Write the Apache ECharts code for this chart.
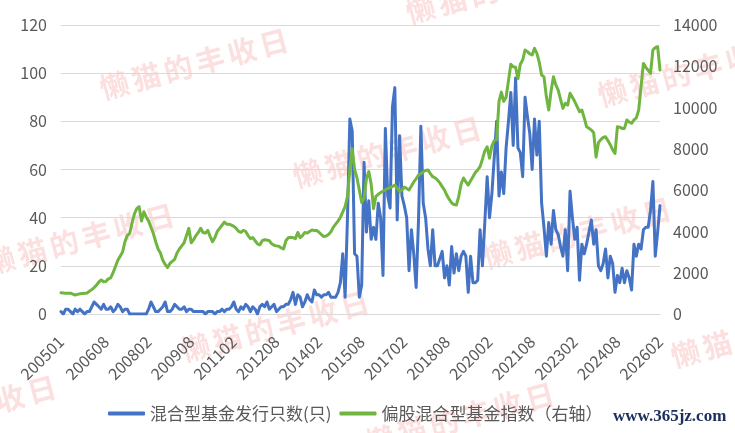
<!DOCTYPE html>
<html><head><meta charset="utf-8">
<script src="https://cdn.jsdelivr.net/npm/echarts@6/dist/echarts.min.js"></script>
<style>html,body{margin:0;padding:0;background:#fff}#c{width:735px;height:433px}</style>
</head><body><div id="c"></div>
<script>
// Monthly categories 200501 .. 202602
const months = [];
for (let y = 2005; y <= 2026; y++) {
  for (let m = 1; m <= 12; m++) {
    if (y === 2026 && m > 2) break;
    months.push(String(y) + String(m).padStart(2, '0'));
  }
}
const tickLabels = ['200501','200608','200802','200908','201102','201208','201402','201508','201702','201808','202002','202108','202302','202408','202602'];

const seriesNames = ['混合型基金发行只数(只)', '偏股混合型基金指数（右轴）'];

// 混合型基金发行只数 (left axis)
const issueCount = [
  1,0,2,2,1,0,2,1,2,1,0,1,
  1,3,5,4,3,2,4,2,2,3,1,2,
  4,3,1,2,2,0,0,0,0,0,0,0,
  0,2,5,3,1,1,2,3,5,1,1,2,
  4,3,2,2,3,1,2,2,1,1,1,1,
  1,0,1,1,1,0,1,1,2,1,2,2,
  3,5,2,1,3,2,4,3,1,3,2,0,
  3,4,3,5,2,3,4,1,2,3,3,4,
  4,6,9,4,8,7,3,5,8,6,5,10,
  8,8,7,8,8,9,7,7,7,9,13,25,
  7,40,81,76,25,24,7,12,63,34,47,31,
  36,31,46,40,16,77,49,44,86,94,39,74,
  49,45,40,18,35,25,11,39,78,46,40,27,
  20,35,20,20,23,26,15,20,12,28,17,25,
  18,24,26,24,9,24,13,13,14,35,20,38,
  57,40,50,65,80,49,59,50,69,80,92,70,
  98,69,67,57,90,82,75,60,81,66,80,46,
  36,24,38,29,43,35,33,28,24,35,18,51,
  40,31,36,14,29,25,29,34,39,29,35,20,
  18,21,27,15,24,21,9,16,13,19,13,18,
  15,10,29,24,29,27,35,36,36,43,55,24,
  34,45
];

// 偏股混合型基金指数 (right axis)
const fundIndex = [
  1030,1020,1000,1000,1010,960,920,950,980,990,1000,1020,
  1100,1180,1280,1400,1550,1650,1560,1580,1700,1750,2000,2300,
  2600,2800,3000,3500,3800,3900,4400,4850,5100,5200,4500,4950,
  4700,4500,4200,3900,3500,3150,2950,2600,2400,2250,2450,2550,
  2650,2950,3150,3300,3450,3800,4150,3450,3600,3800,3950,4150,
  3950,3920,4050,3750,3500,3700,4000,4150,4300,4450,4350,4350,
  4300,4250,4150,4000,3950,4050,4000,3800,3650,3700,3550,3400,
  3350,3550,3600,3580,3550,3400,3330,3300,3280,3200,3150,3550,
  3700,3720,3700,3650,3950,3700,3800,3950,3920,4000,4070,4050,
  4050,3950,3850,3750,3780,3850,3980,4200,4350,4500,4680,4950,
  5200,5700,7000,8000,7000,6600,6000,5400,5600,6550,6900,6300,
  5100,5700,5800,5880,5950,6020,6080,6120,6180,6250,6100,5920,
  6000,6150,6080,6010,6200,6400,6550,6730,6800,6890,6950,6980,
  6800,6650,6600,6490,6350,6170,6000,5750,5550,5380,5300,5280,
  5700,6300,6590,6400,6250,6450,6650,6850,6980,7140,7500,7900,
  8100,7550,8150,8400,8450,10300,10750,10300,10500,11300,12100,11980,
  11950,11400,12100,12300,12790,12710,12600,12550,12870,12630,12200,11580,
  11490,10530,9880,10800,11490,11100,10850,10400,9960,10210,10120,10690,
  10500,10290,10050,9800,9880,9500,9070,9000,8910,8780,7600,8300,
  8450,8550,8590,8400,8200,7950,7780,9070,9050,8990,8990,9400,
  9300,9240,9400,9500,9880,11010,12140,11950,11800,11660,12790,12900,
  12950,11820
];

const watermarkText = '懒猫的丰收日';
const siteText = 'www.365jz.com';
</script>
<script>
const wmSpots = [[194,64],[500,-12],[692,71],[387,152],[80,239],[577,233],[765,332],[-38,411],[275,326],[460,418]];
const graphics = [];
const ang = 15 * Math.PI / 180, pitch = 33;
wmSpots.forEach(([cx, cy]) => {
  const chars = Array.from(watermarkText);
  chars.forEach((ch, k) => {
    const off = (k - (chars.length - 1) / 2) * pitch;
    graphics.push({
      type: 'text', x: cx + off * Math.cos(ang), y: cy - off * Math.sin(ang),
      rotation: ang, z: 0, silent: true,
      style: { text: ch, font: 'bold 29px "Noto Sans CJK SC"', fill: 'rgba(238,95,95,0.2)', textAlign: 'center', textVerticalAlign: 'middle' }
    });
  });
});
graphics.push({
  type: 'text', x: 613, y: 417, z: 10,
  style: { text: siteText, font: 'bold 17px "Liberation Serif"', fill: '#1B2F5E', textAlign: 'left', textVerticalAlign: 'middle' }
});

const chart = echarts.init(document.getElementById('c'), null, { renderer: 'canvas' });
chart.setOption({
  animation: false,
  backgroundColor: '#fff',
  textStyle: { fontFamily: '"Noto Sans CJK SC", "Noto Sans", sans-serif' },
  grid: { left: 61, right: 75, top: 25, bottom: 119, containLabel: false },
  legend: {
    left: 103, top: 400, itemWidth: 37, itemHeight: 4, itemGap: 8, icon: 'roundRect',
    textStyle: { fontSize: 17, color: '#595959' },
    data: seriesNames
  },
  xAxis: {
    type: 'category', data: months, boundaryGap: false,
    axisLine: { lineStyle: { color: '#D9D9D9', width: 1 } },
    axisTick: { show: false },
    splitLine: { show: false },
    axisLabel: {
      interval: (i, v) => tickLabels.indexOf(v) >= 0,
      rotate: 45, fontSize: 16, color: '#595959', margin: 25
    }
  },
  yAxis: [
    { type: 'value', min: 0, max: 120, interval: 20, position: 'left',
      axisLine: { show: false }, axisTick: { show: false },
      axisLabel: { fontSize: 16, color: '#595959', margin: 14 },
      splitLine: { lineStyle: { color: '#D9D9D9', width: 1 } } },
    { type: 'value', min: 0, max: 14000, interval: 2000, position: 'right',
      axisLine: { show: false }, axisTick: { show: false },
      axisLabel: { fontSize: 16, color: '#595959', margin: 13, formatter: v => String(v) },
      splitLine: { show: false } }
  ],
  series: [
    { name: seriesNames[0], type: 'line', yAxisIndex: 0, data: issueCount, symbol: 'none', z: 3,
      lineStyle: { width: 3, color: '#4472C4', cap: 'round', join: 'round' }, itemStyle: { color: '#4472C4' } },
    { name: seriesNames[1], type: 'line', yAxisIndex: 1, data: fundIndex, symbol: 'none', z: 4,
      lineStyle: { width: 3, color: '#70B53F', cap: 'round', join: 'round' }, itemStyle: { color: '#70B53F' } }
  ],
  graphic: graphics
});
</script>
</body></html>
